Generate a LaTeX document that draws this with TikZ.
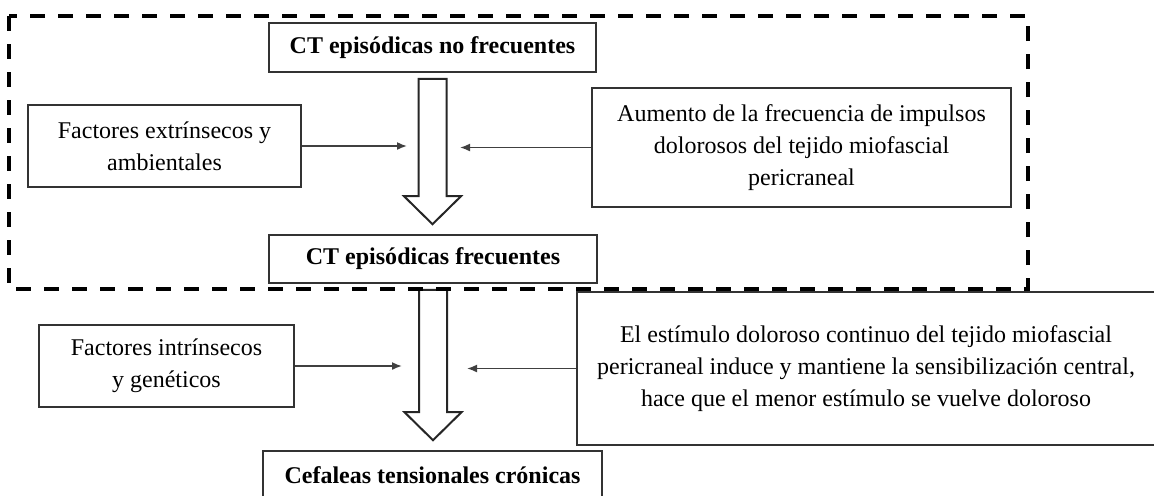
\documentclass[tikz,border=0pt]{standalone}
\usepackage{fontspec}
\setmainfont{Liberation Serif}
\usetikzlibrary{arrows.meta,calc}
\tikzset{
  box/.style={draw=black!80, line width=0.8pt, align=center, inner sep=0pt,
    font=\fontsize{12}{16}\selectfont},
  title/.style={box, font=\fontsize{12}{16}\selectfont\bfseries},
  fat/.style={draw=black!85, line width=1pt, fill=white},
  feed/.style={draw=black!75, line width=0.8pt, -{Latex[length=5pt,width=4pt]}},
  dashframe/.style={draw=black, line width=1.8pt, dash pattern=on 7.5pt off 6.5pt}
}

\begin{document}
\begin{tikzpicture}[x=0.5pt,y=-0.5pt]
      \useasboundingbox (0,0) rectangle (1154,495);
      \node[title, minimum width=163.5pt, minimum height=24.5pt] (nofreq) at (432.5,47.5) {CT episódicas no frecuentes};
      \node[title, minimum width=164pt, minimum height=24pt] (freq) at (433,259) {CT episódicas frecuentes};
      \node[title, minimum width=169.5pt, minimum height=24.5pt] (cronic) at (432.5,475.5) {Cefaleas tensionales crónicas};
      \node[box, minimum width=136.5pt, minimum height=41pt] (extr) at (164.5,146) {Factores extrínsecos y\\ambientales};
      \node[box, minimum width=209.5pt, minimum height=59.5pt] (aumento) at (801.5,147.5) {Aumento de la frecuencia de impulsos\\dolorosos del tejido miofascial\\pericraneal};
      \node[box, minimum width=127.5pt, minimum height=41pt] (intr) at (166.5,366) {Factores intrínsecos\\y genéticos};
      % runs past the right edge of the page
      \node[box, align=left, minimum width=310pt, minimum height=76.5pt] (estimulo) at (887,368.5) {\hspace*{-21pt}\begin{tabular}{@{}c@{}}El estímulo doloroso continuo del tejido miofascial\\pericraneal induce y mantiene la sensibilización central,\\hace que el menor estímulo se vuelve doloroso\end{tabular}};
      % hollow arrows down the middle
      \foreach \a/\b in {nofreq/freq, freq/cronic} {
	\draw[fat] let \p1=([yshift=-3pt]\a.south), \p2=([yshift=5pt]\b.north) in
	  (\x1-7pt,\y1) -- (\x1-7pt,\y2+14pt) -- (\x1-14.25pt,\y2+14pt) -- (\x1,\y2)
	  -- (\x1+14.25pt,\y2+14pt) -- (\x1+7pt,\y2+14pt) -- (\x1+7pt,\y1) -- cycle;
      };
      \coordinate (in1) at (407,146);
      \coordinate (in2) at (460,147.5);
      \coordinate (in3) at (402,366);
      \coordinate (in4) at (467,368.5);
      \foreach \n/\c in {extr/in1, aumento/in2, intr/in3, estimulo/in4} {
	\draw[feed] (\n) -- (\c);
      };
      \draw[dashframe] (9,16) rectangle (1028,289);
    \end{tikzpicture}
\end{document}
